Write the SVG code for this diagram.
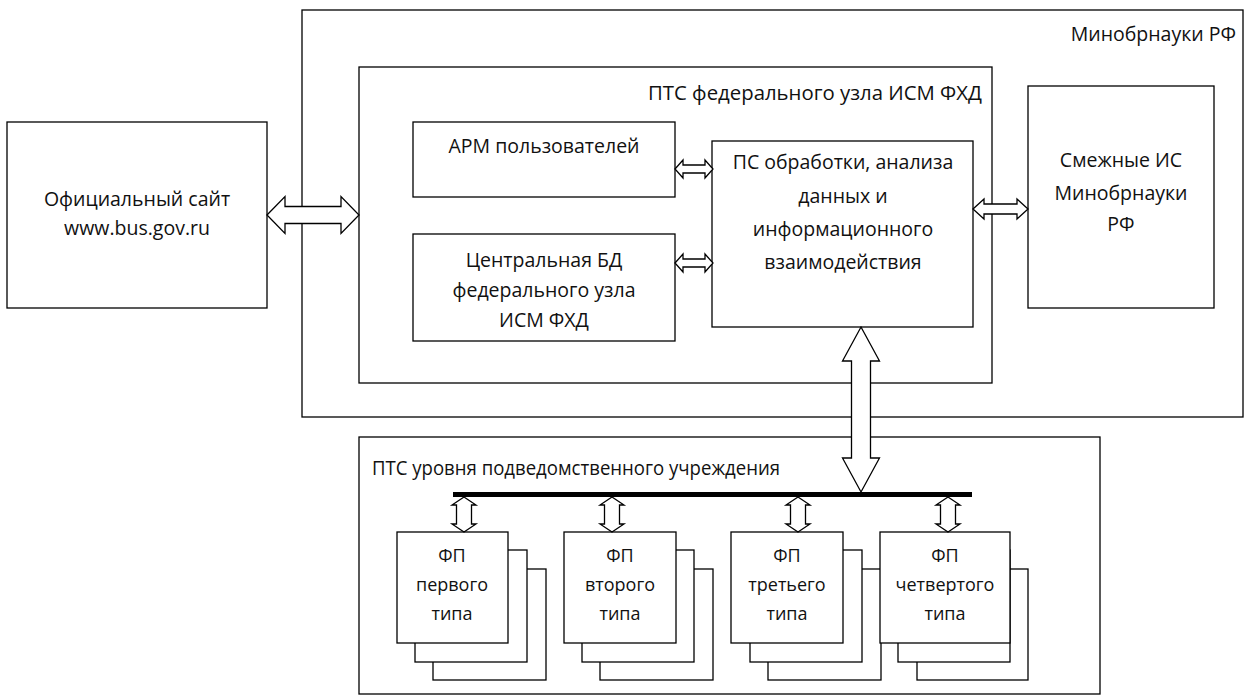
<svg xmlns="http://www.w3.org/2000/svg" width="1244" height="696" viewBox="0 0 1244 696">
<style>
.b{fill:#fff;stroke:#000;stroke-width:1.3}
.a{fill:#fff;stroke:#000;stroke-width:1.3;stroke-linejoin:miter}
text{font-family:"Open Sans","Liberation Sans",sans-serif;font-size:19.5px;fill:#111}
.c{text-anchor:middle}
.r{text-anchor:end}
.s{font-size:18px}
</style>
<rect width="1244" height="696" fill="#fff"/>
<g id="minobr"><rect class="b" x="302" y="10" width="941" height="407"/><text class="r" x="1236" y="41">Минобрнауки РФ</text></g>
<g id="pts-fed"><rect class="b" x="359" y="67" width="633" height="316"/><text x="648" y="100" textLength="334" lengthAdjust="spacingAndGlyphs">ПТС федерального узла ИСМ ФХД</text></g>
<g id="site"><rect class="b" x="7" y="122" width="260" height="186"/><text class="c" x="137" y="206">Официальный сайт</text><text class="c" x="137" y="235">www.bus.gov.ru</text></g>
<g id="arm"><rect class="b" x="413" y="122" width="262" height="75"/><text class="c" x="544" y="153">АРМ пользователей</text></g>
<g id="cbd"><rect class="b" x="413" y="234" width="262" height="107"/><text class="c" x="544" y="267">Центральная БД</text><text class="c" x="544" y="297">федерального узла</text><text class="c" x="544" y="327">ИСМ ФХД</text></g>
<g id="ps"><rect class="b" x="712" y="141" width="261" height="186"/><text class="c" x="843" y="169">ПС обработки, анализа</text><text class="c" x="843" y="203">данных и</text><text class="c" x="843" y="236">информационного</text><text class="c" x="843" y="269">взаимодействия</text></g>
<g id="smezh"><rect class="b" x="1028" y="86" width="186" height="222"/><text class="c" x="1121" y="167">Смежные ИС</text><text class="c" x="1121" y="200">Минобрнауки</text><text class="c" x="1121" y="231">РФ</text></g>
<g id="pts-level"><rect class="b" x="359" y="437" width="741" height="257"/><text x="372" y="475" textLength="408" lengthAdjust="spacingAndGlyphs">ПТС уровня подведомственного учреждения</text></g>
<g id="fp1"><rect class="b" x="433" y="569" width="113" height="111"/><rect class="b" x="415" y="550" width="112" height="112"/><rect class="b" x="397" y="532" width="111" height="111"/><text class="c s" x="452" y="562">ФП</text><text class="c s" x="452" y="591">первого</text><text class="c s" x="452" y="620">типа</text></g>
<g id="fp2"><rect class="b" x="600" y="569" width="113" height="111"/><rect class="b" x="582" y="550" width="112" height="112"/><rect class="b" x="564" y="532" width="112" height="111"/><text class="c s" x="620" y="562">ФП</text><text class="c s" x="620" y="591">второго</text><text class="c s" x="620" y="620">типа</text></g>
<g id="fp3"><rect class="b" x="768" y="569" width="113" height="111"/><rect class="b" x="750" y="550" width="112" height="112"/><rect class="b" x="731" y="532" width="112" height="111"/><text class="c s" x="787" y="562">ФП</text><text class="c s" x="787" y="591">третьего</text><text class="c s" x="787" y="620">типа</text></g>
<g id="fp4"><rect class="b" x="917" y="569" width="111" height="111"/><rect class="b" x="898" y="550" width="112" height="112"/><rect class="b" x="880" y="532" width="130" height="111"/><text class="c s" x="945" y="562">ФП</text><text class="c s" x="945" y="591">четвертого</text><text class="c s" x="945" y="620">типа</text></g>
<g id="connectors">
<rect x="453" y="492" width="519" height="5" fill="#000"/>
<polygon class="a" points="267,215 285,196.5 285,206.5 341,206.5 341,196.5 359,215 341,233.5 341,223.5 285,223.5 285,233.5"/>
<polygon class="a" points="675,169 683,160 683,165 705,165 705,160 713,169 705,178 705,173 683,173 683,178"/>
<polygon class="a" points="675,263 683,254 683,259 705,259 705,254 713,263 705,272 705,267 683,267 683,272"/>
<polygon class="a" points="973,209 984,199 984,204 1017,204 1017,199 1028,209 1017,219 1017,214 984,214 984,219"/>
<polygon class="a" points="861,327 879.5,361 870.5,361 870.5,458 879.5,458 861,492 842.5,458 851.5,458 851.5,361 842.5,361"/>
<polygon class="a" points="464,497 476,505 471.5,505 471.5,524 476,524 464,532 452,524 456.5,524 456.5,505 452,505"/>
<polygon class="a" points="612,497 624,505 619.5,505 619.5,524 624,524 612,532 600,524 604.5,524 604.5,505 600,505"/>
<polygon class="a" points="798,497 810,505 805.5,505 805.5,524 810,524 798,532 786,524 790.5,524 790.5,505 786,505"/>
<polygon class="a" points="948,497 960,505 955.5,505 955.5,524 960,524 948,532 936,524 940.5,524 940.5,505 936,505"/>
</g>
</svg>
